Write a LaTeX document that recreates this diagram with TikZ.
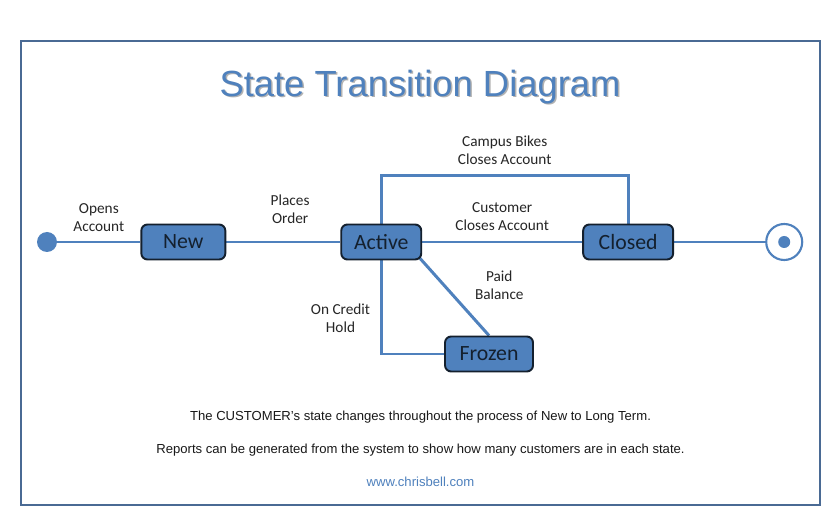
\documentclass[tikz,border=0pt]{standalone}
\usepackage{fontspec}
\setmainfont{Carlito}
\newfontfamily\arialfont{Liberation Sans}
\usetikzlibrary{positioning,backgrounds}

\definecolor{stblue}{HTML}{4F81BD}
\definecolor{framebl}{HTML}{4A6A94}
\definecolor{statetxt}{HTML}{14202E}

\begin{document}
\begin{tikzpicture}[
  font=\fontsize{8.7}{10.2}\selectfont,
  state/.style={draw=statetxt, line width=1.1pt, rounded corners=3.5pt, fill=stblue,
                minimum height=7mm, inner sep=2pt, text=statetxt,
                font=\fontsize{12.4}{14}\selectfont},
  trans/.style={draw=stblue, line width=1.7pt},
  lbl/.style={align=center, text=black!85, inner sep=1pt},
  info/.style={font=\arialfont\fontsize{7.45}{9}\selectfont, text=black!90},
  headline/.style={font=\arialfont\fontsize{20.7}{24}\selectfont},
]
\useasboundingbox (0,0) rectangle (16.8,10.62);
\draw[framebl, line width=1.4pt] (0.42,0.52) rectangle (16.40,9.80);

% title with its soft shadow
\node[headline, text=black!30] (titleshadow) at (8.43,8.85) {State Transition Diagram};
\node[headline, text=stblue]   (title)       at (8.40,8.88) {State Transition Diagram};

% states
\node[circle, fill=stblue, minimum size=4mm, inner sep=0pt] (start) at (0.94,5.78) {};
\node[state, minimum width=16.8mm, right=16.6mm of start]  (new)    {New};
\node[state, minimum width=16mm, right=22.8mm of new]      (active) {Active};
\node[state, minimum width=18mm, right=32mm of active]     (closed) {Closed};
\node[state, minimum width=17.6mm] (frozen) at (9.78,3.54) {Frozen};
\node[circle, draw=stblue, line width=1.2pt, minimum size=7.2mm, inner sep=0pt,
      right=18.2mm of closed] (finish) {};
\node[circle, fill=stblue, minimum size=2.4mm, inner sep=0pt] (finishdot) at (finish) {};

% transitions
\begin{scope}[on background layer]
\fill[white] (0,0) rectangle (16.8,10.62);
\draw[trans] (start) -- node[lbl, above=4pt] (opens) {Opens\\Account} (new);
\draw[trans] (new) -- node[lbl, pos=0.56, above=8.5pt] (places) {Places\\Order} (active);
\draw[trans] (active) -- node[lbl, above=4.5pt] (custclose) {Customer\\Closes Account} (closed);
\draw[trans] (closed) -- (finish);
\draw[trans] (active.north) -- ++(0,0.96)
  -| node[lbl, pos=0.25, above=4.5pt] (bikesclose) {Campus Bikes\\Closes Account} (closed.north);
\draw[trans] (active.south) |- node[lbl, pos=0.31, left=4.5pt] (hold) {On Credit\\Hold} (frozen.west);
\draw[trans] ([shift={(-0.06,0.06)}]active.south east) --
  node[lbl, pos=0.35, right=16pt] (paid) {Paid\\Balance} (frozen.north);
\end{scope}

% notes
\node[info] (noteone) at (8.41,2.27) {The CUSTOMER’s state changes throughout the process of New to Long Term.};
\node[info] (notetwo) at (8.41,1.62) {Reports can be generated from the system to show how many customers are in each state.};
\node[info, text=stblue] (web) at (8.41,0.98) {www.chrisbell.com};
\end{tikzpicture}
\end{document}
